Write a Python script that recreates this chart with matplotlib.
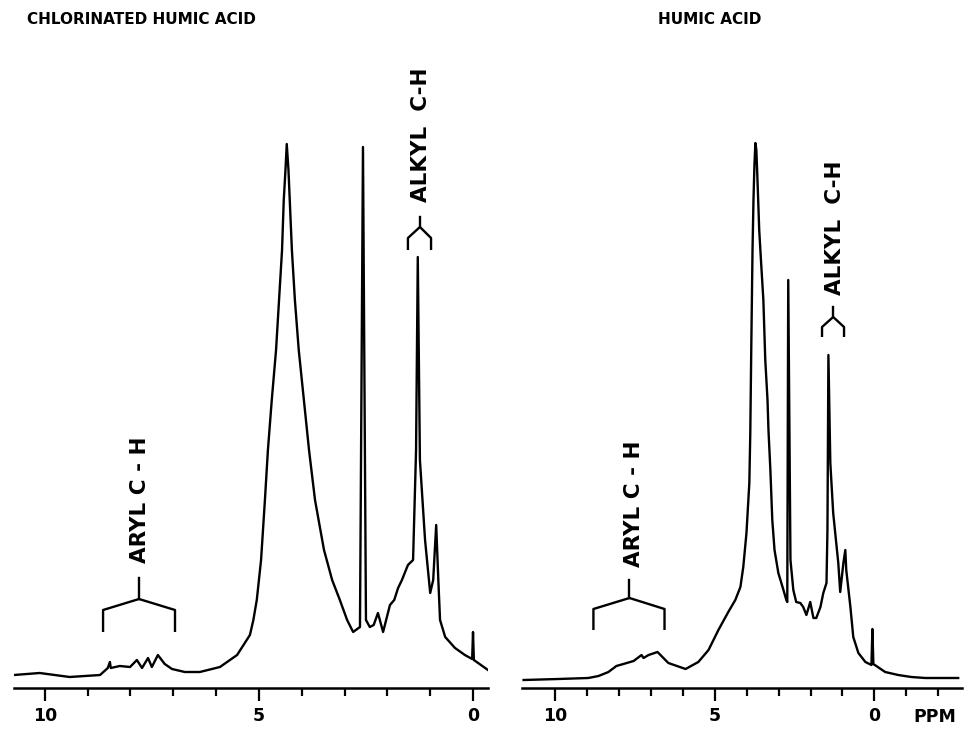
import matplotlib
matplotlib.use("Agg")
import matplotlib.pyplot as plt

# chlorinated humic acid spectrum (ppm, relative intensity)
cl_ppm = [10.72, 10.12, 9.42, 8.71, 8.53, 8.48, 8.46, 8.25, 8.01, 7.85, 7.73, 7.59,
          7.50, 7.36, 7.20, 7.03, 6.73, 6.38, 5.91, 5.51, 5.21, 5.13, 5.05, 4.95,
          4.86, 4.79, 4.70, 4.60, 4.53, 4.46, 4.42, 4.38, 4.35, 4.31, 4.28, 4.23,
          4.16, 4.07, 3.95, 3.83, 3.69, 3.48, 3.29, 3.11, 2.94, 2.80, 2.64,
          2.57, 2.50, 2.41, 2.32, 2.22, 2.10, 1.94, 1.84, 1.75, 1.66, 1.52, 1.40,
          1.33, 1.29, 1.24, 1.12, 1.00, 0.93, 0.86, 0.81, 0.77, 0.65, 0.42, 0.19,
          0.02, 0.00, -0.02, -0.35]
cl_int = [13, 15, 11, 13, 20, 26, 20, 22, 21, 28, 20, 30,
          21, 33, 24, 19, 16, 16, 21, 33, 53, 68, 88, 128,
          188, 238, 288, 338, 388, 438, 488, 518, 544, 518, 488, 438,
          388, 338, 288, 238, 188, 138, 108, 88, 68, 56, 61,
          541, 68, 61, 63, 75, 56, 83, 88, 100, 108, 123, 128,
          238, 431, 228, 148, 95, 108, 163, 108, 68, 51, 40, 33,
          29, 56, 28, 18]

# humic acid spectrum
ha_ppm = [11.0, 9.91, 8.97, 8.65, 8.34, 8.09, 7.87, 7.55, 7.30, 7.24, 7.08, 6.80,
          6.46, 5.92, 5.52, 5.20, 4.89, 4.58, 4.36, 4.20, 4.11, 4.01, 3.92, 3.89,
          3.86, 3.82, 3.79, 3.76, 3.73, 3.70, 3.67, 3.61, 3.55, 3.48, 3.42, 3.35,
          3.32, 3.26, 3.20, 3.13, 3.01, 2.85, 2.76, 2.73, 2.70, 2.63, 2.54,
          2.45, 2.32, 2.23, 2.13, 2.01, 1.91, 1.82, 1.69, 1.60, 1.50, 1.47, 1.44,
          1.38, 1.29, 1.13, 1.07, 0.97, 0.91, 0.88, 0.75, 0.66, 0.50, 0.28, 0.09,
          0.06, 0.03, -0.34, -0.75, -1.16, -1.60, -2.63]
ha_int = [8, 9, 10, 12, 16, 22, 24, 27, 33, 30, 33, 36,
          25, 19, 26, 38, 58, 76, 88, 101, 121, 155, 205, 255,
          338, 438, 488, 523, 545, 538, 513, 458, 425, 388, 328, 288,
          258, 218, 168, 138, 115, 98, 88, 86, 408, 128, 98,
          86, 85, 81, 73, 86, 70, 70, 81, 95, 105, 158, 333,
          225, 175, 125, 96, 125, 138, 118, 81, 51, 35, 26, 23,
          59, 24, 16, 13, 11, 10, 10]

titles = ["CHLORINATED HUMIC ACID", "HUMIC ACID"]
cl_ticks = list(range(0, 11))
ha_ticks = list(range(-2, 11))
major_labels = {10: "10", 5: "5", 0: "0"}

W, H = 964, 730
fig = plt.figure(figsize=(W / 100, H / 100), dpi=100)
fig.patch.set_facecolor("white")

font = dict(family="DejaVu Sans", weight="bold", color="black")


def bracket(ax, center, half_left, half_right, top, apex, shoulder, bottom):
    xs = [center - half_left, center - half_left, center, center + half_right, center + half_right]
    ys = [bottom, shoulder, apex, shoulder, bottom]
    ax.plot(xs, ys, color="black", lw=1.7, solid_capstyle="butt", clip_on=False)
    ax.plot([center, center], [apex, top], color="black", lw=1.7, clip_on=False)


def setup(ax, ticks, xlim):
    ax.set_xlim(*xlim)
    ax.set_ylim(0, 688)
    for s in ["left", "right", "top"]:
        ax.spines[s].set_visible(False)
    ax.spines["bottom"].set_linewidth(1.8)
    ax.set_yticks([])
    ax.set_xticks([t for t in ticks if t in major_labels])
    ax.set_xticklabels([major_labels[t] for t in ticks if t in major_labels], **font, fontsize=12.5)
    ax.set_xticks([t for t in ticks if t not in major_labels], minor=True)
    ax.tick_params(axis="x", which="major", length=9, width=1.6, pad=5)
    ax.tick_params(axis="x", which="minor", length=6, width=1.6)
    ax.patch.set_alpha(0)


ax1 = fig.add_axes([14 / W, (H - 688) / H, 474 / W, 688 / H])
setup(ax1, cl_ticks, (10.72, -0.35))
ax1.plot(cl_ppm, cl_int, color="black", lw=1.7)

ax2 = fig.add_axes([522 / W, (H - 688) / H, 440 / W, 688 / H])
setup(ax2, ha_ticks, (11.05, -2.75))
ax2.plot(ha_ppm, ha_int, color="black", lw=1.7)

# annotations
ax1.text(1.21, 486, "ALKYL  C-H", rotation=90, ha="center", va="bottom", fontsize=15.5, **font)
bracket(ax1, 1.24, 0.26, 0.28, 471, 461, 450, 438)
ax1.text(7.78, 125, "ARYL C - H", rotation=90, ha="center", va="bottom", fontsize=15.5, **font)
bracket(ax1, 7.80, 0.84, 0.84, 110, 89, 78, 56)

ax2.text(1.22, 393, "ALKYL  C-H", rotation=90, ha="center", va="bottom", fontsize=15.5, **font)
bracket(ax2, 1.29, 0.34, 0.35, 381, 371, 361, 351)
ax2.text(7.55, 121, "ARYL C - H", rotation=90, ha="center", va="bottom", fontsize=15.5, **font)
bracket(ax2, 7.68, 1.10, 1.13, 108, 90, 79, 58)

fig.text(27 / W, 1 - 20 / H, titles[0], ha="left", va="center", fontsize=11, **font)
fig.text(658 / W, 1 - 20 / H, titles[1], ha="left", va="center", fontsize=11, **font)
fig.text(935 / W, 1 - 717 / H, "PPM", ha="center", va="center", fontsize=12.5, **font)

fig.savefig("out.png", dpi=100, facecolor="white")
